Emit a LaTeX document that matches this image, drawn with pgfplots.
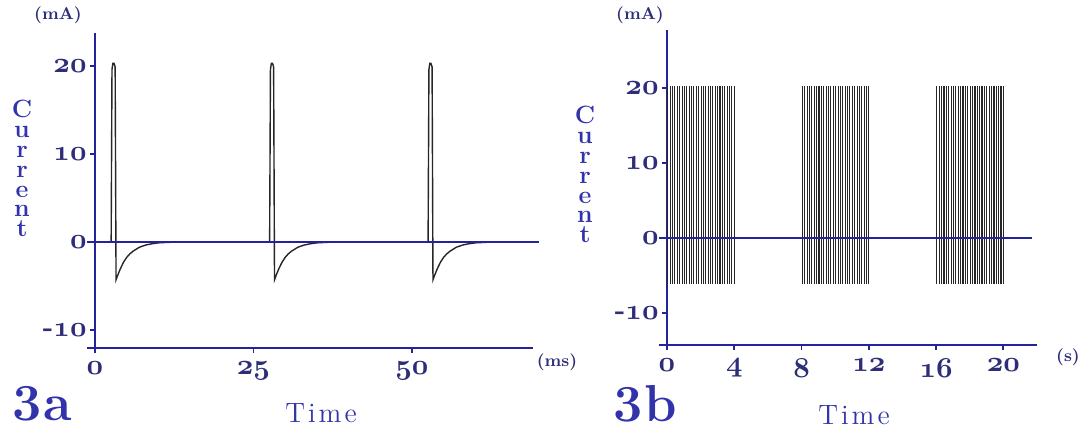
\documentclass[border=0pt]{standalone}
\usepackage{pgfplots}
\pgfplotsset{compat=1.18}
\definecolor{axblue}{RGB}{35,35,155}
\definecolor{txblue}{RGB}{50,50,170}
\definecolor{tknavy}{RGB}{45,45,120}
\newcommand\osn[1]{{\usefont{OML}{cmm}{b}{it}#1}}

% Fig. 3a: current trace (ms, mA)
\pgfplotstableread{
t I
0 0
2.55 0
2.68 19.6
2.82 20.3
3.00 20.3
3.18 19.9
3.32 -4.3
3.60 -3.75
4.00 -3.05
4.50 -2.30
5.00 -1.75
5.50 -1.35
6.00 -1.05
7.00 -0.60
8.00 -0.35
9.00 -0.20
10.00 -0.10
12.00 -0.03
14.00 0
27.55 0
27.68 19.6
27.82 20.3
28.00 20.3
28.18 19.9
28.32 -4.3
28.60 -3.75
29.00 -3.05
29.50 -2.30
30.00 -1.75
30.50 -1.35
31.00 -1.05
32.00 -0.60
33.00 -0.35
34.00 -0.20
35.00 -0.10
37.00 -0.03
39.00 0
52.55 0
52.68 19.6
52.82 20.3
53.00 20.3
53.18 19.9
53.32 -4.3
53.60 -3.75
54.00 -3.05
54.50 -2.30
55.00 -1.75
55.50 -1.35
56.00 -1.05
57.00 -0.60
58.00 -0.35
59.00 -0.20
60.00 -0.10
62.00 -0.03
64.00 0
69.00 0
}\traceA

% Fig. 3b: pulse bursts (s), each pulse from lo to hi (mA)
\pgfplotstableread{
t hi lo
0.05 20.2 -6.2
0.19 20.2 -6.2
0.33 20.2 -6.2
0.47 20.2 -6.2
0.61 20.2 -6.2
0.76 20.2 -6.2
0.90 20.2 -6.2
1.04 20.2 -6.2
1.18 20.2 -6.2
1.32 20.2 -6.2
1.46 20.2 -6.2
1.60 20.2 -6.2
1.74 20.2 -6.2
1.88 20.2 -6.2
2.03 20.2 -6.2
2.17 20.2 -6.2
2.31 20.2 -6.2
2.45 20.2 -6.2
2.59 20.2 -6.2
2.73 20.2 -6.2
2.87 20.2 -6.2
3.01 20.2 -6.2
3.15 20.2 -6.2
3.30 20.2 -6.2
3.44 20.2 -6.2
3.58 20.2 -6.2
3.72 20.2 -6.2
3.86 20.2 -6.2
4.00 20.2 -6.2
}\burstA
\pgfplotstableread{
t hi lo
8.05 20.2 -6.2
8.19 20.2 -6.2
8.33 20.2 -6.2
8.47 20.2 -6.2
8.61 20.2 -6.2
8.76 20.2 -6.2
8.90 20.2 -6.2
9.04 20.2 -6.2
9.18 20.2 -6.2
9.32 20.2 -6.2
9.46 20.2 -6.2
9.60 20.2 -6.2
9.74 20.2 -6.2
9.88 20.2 -6.2
10.03 20.2 -6.2
10.17 20.2 -6.2
10.31 20.2 -6.2
10.45 20.2 -6.2
10.59 20.2 -6.2
10.73 20.2 -6.2
10.87 20.2 -6.2
11.01 20.2 -6.2
11.15 20.2 -6.2
11.30 20.2 -6.2
11.44 20.2 -6.2
11.58 20.2 -6.2
11.72 20.2 -6.2
11.86 20.2 -6.2
12.00 20.2 -6.2
}\burstB
\pgfplotstableread{
t hi lo
16.05 20.2 -6.2
16.19 20.2 -6.2
16.33 20.2 -6.2
16.47 20.2 -6.2
16.61 20.2 -6.2
16.76 20.2 -6.2
16.90 20.2 -6.2
17.04 20.2 -6.2
17.18 20.2 -6.2
17.32 20.2 -6.2
17.46 20.2 -6.2
17.60 20.2 -6.2
17.74 20.2 -6.2
17.88 20.2 -6.2
18.03 20.2 -6.2
18.17 20.2 -6.2
18.31 20.2 -6.2
18.45 20.2 -6.2
18.59 20.2 -6.2
18.73 20.2 -6.2
18.87 20.2 -6.2
19.01 20.2 -6.2
19.15 20.2 -6.2
19.30 20.2 -6.2
19.44 20.2 -6.2
19.58 20.2 -6.2
19.72 20.2 -6.2
19.86 20.2 -6.2
20.00 20.2 -6.2
}\burstC

\pgfplotsset{
  fig3/.style={
    scale only axis,
    axis lines*=left,
    axis line style={axblue, line width=1.3pt, -},
    tick style={axblue, line width=0.9pt},
    major tick length=2.5pt,
    tick align=outside,
    clip=false,
    tick label style={text=tknavy, font=\fontsize{14}{14}\selectfont},
    yticklabel style={inner sep=1.5pt},
    xticklabel style={yshift=-1pt},
    ytick={-10,0,10,20},
    yticklabels={\textbf{-}\osn{10},\osn{0},\osn{10},\osn{20}},
  }
}

\begin{document}
\begin{tikzpicture}
\path[use as bounding box] (0,0) rectangle (540pt,216pt);

% ---------- 3a ----------
\begin{axis}[fig3,
  at={(47.5pt,42pt)}, anchor=south west,
  width=219pt, height=157.5pt,
  xmin=0, xmax=69.1, ymin=-12.05, ymax=23.75,
  xtick={0,25,50},
  xticklabels={\osn{0},\osn{25},\osn{50}},
]
\addplot[black!85, line width=0.7pt] table[x=t, y=I] {\traceA};
\addplot[axblue, line width=1.3pt] coordinates {(-1.2,0) (70,0)};
\draw[axblue, line width=1.3pt] (axis cs:-1.25,-12.05) -- (axis cs:0,-12.05);
\end{axis}

% ---------- 3b ----------
\begin{axis}[fig3,
  at={(333.5pt,43.5pt)}, anchor=south west,
  width=185pt, height=157.5pt,
  xmin=0, xmax=22, ymin=-14.27, ymax=27.73,
  xtick={0,4,8,12,16,20},
  xticklabels={\osn{0},\osn{4},\osn{8},\osn{12},\osn{16},\osn{20}},
]
\addplot[ycomb, black!85, line width=0.55pt] table[x=t, y=hi] {\burstA};
\addplot[ycomb, black!85, line width=0.55pt] table[x=t, y=lo] {\burstA};
\addplot[ycomb, black!85, line width=0.55pt] table[x=t, y=hi] {\burstB};
\addplot[ycomb, black!85, line width=0.55pt] table[x=t, y=lo] {\burstB};
\addplot[ycomb, black!85, line width=0.55pt] table[x=t, y=hi] {\burstC};
\addplot[ycomb, black!85, line width=0.55pt] table[x=t, y=lo] {\burstC};
\addplot[axblue, line width=1.3pt] coordinates {(-0.5,0) (21.7,0)};
\draw[axblue, line width=1.3pt] (axis cs:-0.5,-14.27) -- (axis cs:0,-14.27);
\end{axis}

% ---------- texts ----------
\tikzset{lbl/.style={text=txblue, inner sep=0pt},
  vl/.style={text=txblue, inner sep=0pt, anchor=base, font=\fontsize{12.5}{12.5}\selectfont\bfseries}}
\node[text=tknavy, font=\fontsize{8.5}{8.5}\selectfont\bfseries] at (29pt,208.5pt) {(mA)};
\node[text=tknavy, font=\fontsize{8.5}{8.5}\selectfont\bfseries] at (320pt,208.5pt) {(mA)};
\node[text=tknavy, font=\fontsize{8.5}{8.5}\selectfont\bfseries] at (278.5pt,35pt) {(ms)};
\node[text=tknavy, font=\fontsize{8.5}{8.5}\selectfont\bfseries] at (534pt,37.5pt) {(s)};
\foreach \ch [count=\i from 0] in {C,u,r,r,e,n,t} {
  \node[vl] at (11pt,{157pt-\i*9.9pt}) {\ch};
  \node[vl] at (292.5pt,{154pt-\i*9.9pt}) {\ch};
}
\node[lbl, font=\fontsize{14}{14}\selectfont] at (160.5pt,9.5pt) {T\kern1.5pt i\kern1.5pt m\kern1.5pt e};
\node[lbl, font=\fontsize{14}{14}\selectfont] at (427pt,8.5pt) {T\kern1.5pt i\kern1.5pt m\kern1.5pt e};
\node[lbl, font=\fontsize{26}{26}\selectfont\bfseries] at (21pt,14pt) {3\kern1pt a};
\node[lbl, font=\fontsize{26}{26}\selectfont\bfseries] at (322.5pt,14pt) {3\kern1pt b};
\end{tikzpicture}
\end{document}
